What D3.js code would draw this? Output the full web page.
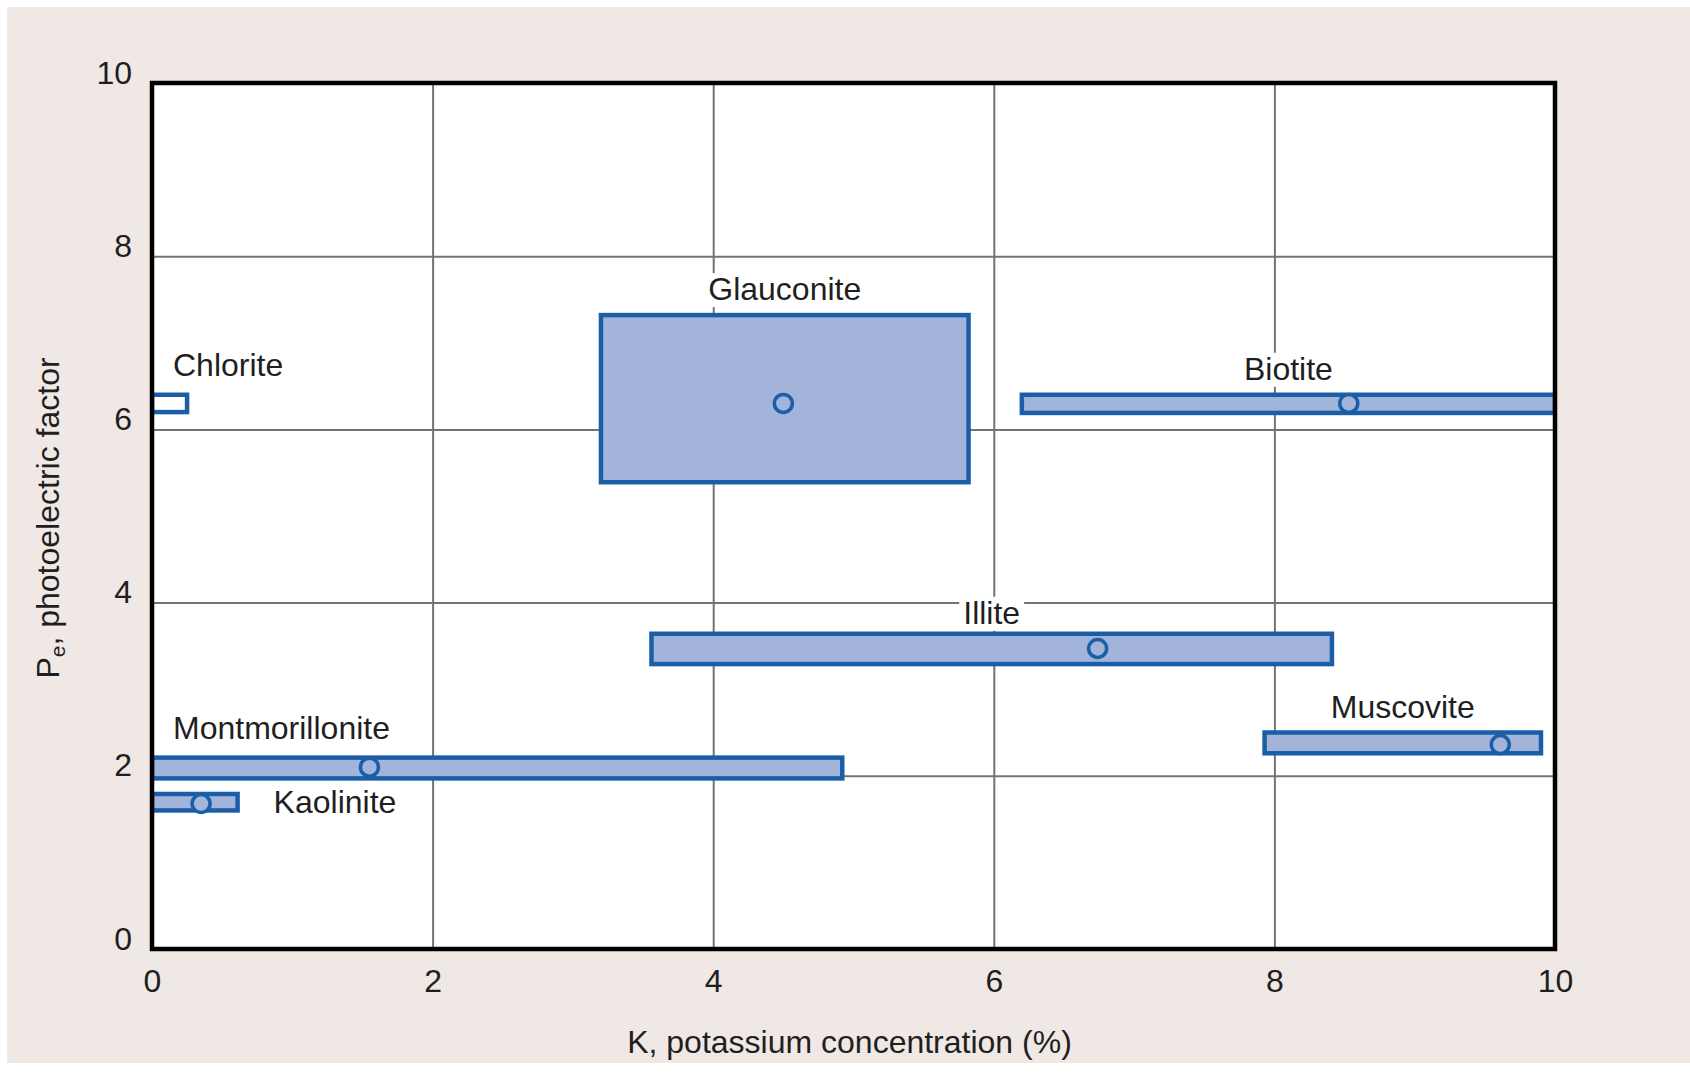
<!DOCTYPE html>
<html>
<head>
<meta charset="utf-8">
<script src="https://cdn.jsdelivr.net/npm/d3@7"></script>
<style>
body{margin:0;background:#fff;}
svg{display:block;font-family:"Liberation Sans",Arial,sans-serif;}
.tick text{font-size:32px;fill:#1f1f1f;}
.lbl{font-size:32px;fill:#1f1f1f;}
</style>
</head>
<body>
<svg id="chart" width="1690" height="1073"></svg>
<script>
// clay minerals, K (%) vs Pe ranges
const minerals = ['Chlorite', 'Glauconite', 'Biotite', 'Illite', 'Muscovite', 'Montmorillonite', 'Kaolinite'];
const kMin  = [0,    3.2,  6.2,  3.56, 7.93, 0,    0];
const kMax  = [0.25, 5.82, 10,   8.41, 9.9,  4.92, 0.61];
const peMin = [6.2,  5.39, 6.19, 3.29, 2.26, 1.97, 1.6];
const peMax = [6.4,  7.32, 6.4,  3.64, 2.5,  2.21, 1.79];
const kMean  = [null, 4.5,  8.53, 6.74, 9.61, 1.55, 0.35];
const peMean = [null, 6.3,  6.3,  3.47, 2.36, 2.1,  1.68];
const labelPlace = ['topleft', 'top', 'top', 'topnear', 'top', 'topleft', 'right'];
const filled = [false, true, true, true, true, true, true];

const xTicks = [0, 2, 4, 6, 8, 10];
const yTicks = [0, 2, 4, 6, 8, 10];
const xTitle = 'K, potassium concentration (%)';

const blue = '#1b5ea8';
const fill = '#a2b4da';

const margin = {left: 152, right: 135, top: 83, bottom: 124};
const W = 1690, H = 1073;
const svg = d3.select('#chart');

const x = d3.scaleLinear().domain([0, 10]).range([margin.left, W - margin.right]);
const y = d3.scaleLinear().domain([0, 10]).range([H - margin.bottom, margin.top]);

const data = minerals.map((m, i) => ({
    name: m, k0: kMin[i], k1: kMax[i], p0: peMin[i], p1: peMax[i],
    km: kMean[i], pm: peMean[i], place: labelPlace[i], filled: filled[i]
}));

// background panel
svg.append('rect').attr('x', 7).attr('y', 7).attr('width', W - 7).attr('height', 1056).attr('fill', '#efe8e5');
svg.append('rect')
    .attr('x', x(0)).attr('y', y(10))
    .attr('width', x(10) - x(0)).attr('height', y(0) - y(10))
    .attr('fill', '#fff');

// grid
svg.append('g')
    .attr('transform', `translate(0, ${y(0)})`)
    .call(d3.axisBottom(x).tickValues(xTicks).tickSize(-(y(0) - y(10))).tickFormat(''))
    .call(g => g.select('.domain').remove())
    .selectAll('line').attr('stroke', '#737373').attr('stroke-width', 2);
svg.append('g')
    .attr('transform', `translate(${x(0)}, 0)`)
    .call(d3.axisLeft(y).tickValues(yTicks).tickSize(-(x(10) - x(0))).tickFormat(''))
    .call(g => g.select('.domain').remove())
    .selectAll('line').attr('stroke', '#737373').attr('stroke-width', 2);

// tick labels
svg.append('g')
    .attr('transform', `translate(0, ${y(0)})`)
    .call(d3.axisBottom(x).tickValues(xTicks).tickSize(0).tickPadding(0).tickFormat(d3.format('d')))
    .call(g => g.select('.domain').remove())
    .selectAll('text').attr('y', 43).attr('dy', 0).attr('font-family', null).attr('font-size', null);
svg.append('g')
    .attr('transform', `translate(${x(0)}, 0)`)
    .call(d3.axisLeft(y).tickValues(yTicks).tickSize(0).tickPadding(0).tickFormat(d3.format('d')))
    .call(g => g.select('.domain').remove())
    .selectAll('text').attr('x', -20).attr('dy', 0).attr('font-family', null).attr('font-size', null);

// marks, clipped to plot
svg.append('clipPath').attr('id', 'plotClip')
    .append('rect')
    .attr('x', x(0)).attr('y', y(10))
    .attr('width', x(10) - x(0)).attr('height', y(0) - y(10));
const plot = svg.append('g').attr('clip-path', 'url(#plotClip)');

plot.selectAll('rect.box')
    .data(data)
    .enter()
    .append('rect')
    .attr('class', 'box')
    .attr('x', d => x(d.k0))
    .attr('y', d => y(d.p1))
    .attr('width', d => x(d.k1) - x(d.k0))
    .attr('height', d => y(d.p0) - y(d.p1))
    .attr('fill', d => d.filled ? fill : '#fff')
    .attr('stroke', blue)
    .attr('stroke-width', 4.5);

plot.selectAll('circle')
    .data(data.filter(d => d.km != null))
    .enter()
    .append('circle')
    .attr('cx', d => x(d.km))
    .attr('cy', d => y(d.pm))
    .attr('r', 9)
    .attr('fill', fill)
    .attr('stroke', blue)
    .attr('stroke-width', 3.5);

// labels with white knock-out behind
const labels = svg.append('g');
data.forEach(d => {
    let lx, ly, anchor;
    if (d.place == 'top' || d.place == 'topnear') {
        lx = (x(d.k0) + x(Math.min(d.k1, 10))) / 2;
        ly = y(d.p1) - (d.place == 'top' ? 15 : 10);
        anchor = 'middle';
    } else if (d.place == 'topleft') {
        lx = x(d.k0) + 21;
        ly = y(d.p1) - 19;
        anchor = 'start';
    } else {
        lx = x(d.k1) + 36;
        ly = (y(d.p0) + y(d.p1)) / 2 + 11;
        anchor = 'start';
    }
    const bg = labels.append('rect').attr('fill', '#fff');
    const t = labels.append('text')
        .attr('class', 'lbl')
        .attr('x', lx).attr('y', ly)
        .attr('text-anchor', anchor)
        .text(d.name);
    const b = t.node().getBBox();
    bg.attr('x', b.x - 4).attr('y', b.y + 2).attr('width', b.width + 8).attr('height', b.height - 2);
});

// frame
svg.append('rect')
    .attr('x', x(0)).attr('y', y(10))
    .attr('width', x(10) - x(0)).attr('height', y(0) - y(10))
    .attr('fill', 'none')
    .attr('stroke', '#000')
    .attr('stroke-width', 4.5);

// axis titles
svg.append('text')
    .attr('class', 'lbl')
    .attr('x', (x(0) + x(10)) / 2 - 4)
    .attr('y', 1053)
    .attr('text-anchor', 'middle')
    .text(xTitle);

const yt = svg.append('text')
    .attr('class', 'lbl')
    .attr('text-anchor', 'middle')
    .attr('transform', `translate(59, ${(y(0) + y(10)) / 2 + 2}) rotate(-90)`);
yt.append('tspan').text('P');
yt.append('tspan').attr('font-size', 21).attr('dy', 6).text('e');
yt.append('tspan').attr('dy', -6).text(', photoelectric factor');
</script>
</body>
</html>
